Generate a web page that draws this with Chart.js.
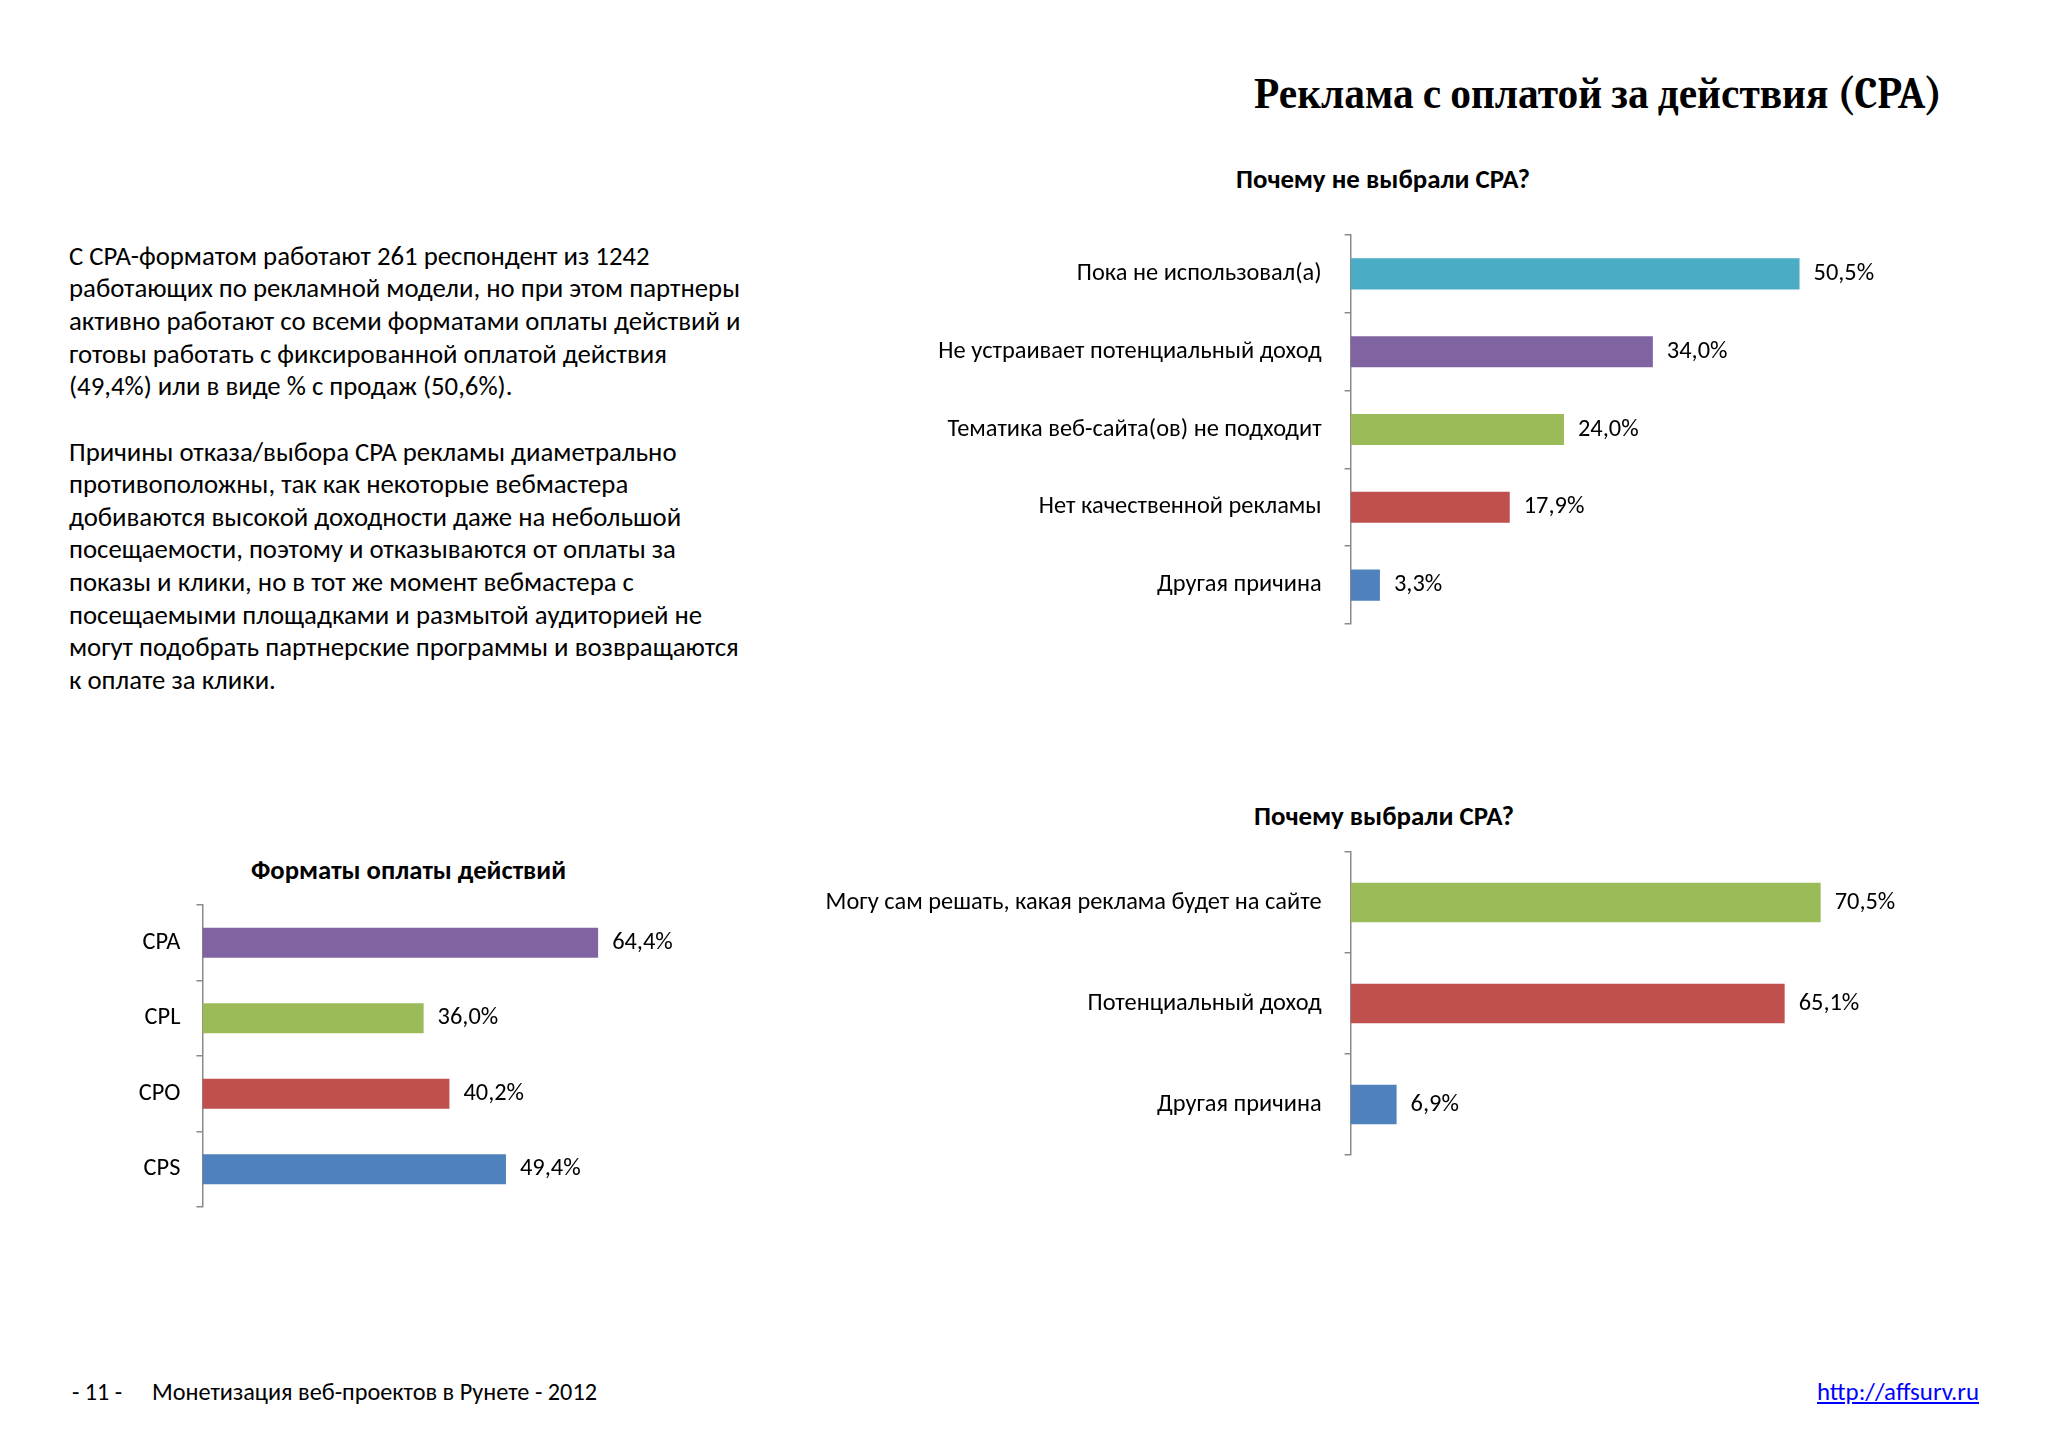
<!DOCTYPE html>
<html>
<head>
<meta charset="utf-8">
<script src="https://cdn.jsdelivr.net/npm/chart.js@4.4.1/dist/chart.umd.min.js"></script>
<style>
  body { margin: 0; background: #fff; }
  #page { position: relative; width: 2048px; height: 1448px; overflow: hidden; background: #fff; color: #000; font-family: Carlito, 'Open Sans', sans-serif; }
  .t { position: absolute; white-space: nowrap; left: 0; top: 0; }
  .box { position: absolute; }
  #body div { height: 32.65px; line-height: 32.65px; }
  #body span { white-space: nowrap; }
</style>
</head>
<body>
<div id="page">
  <div id="title" class="t" style="font-family:Caladea,'Liberation Serif',serif;font-weight:bold;font-size:44px;">Реклама с оплатой за действия (CPA)</div>

  <div id="body" class="t" style="font-size:26.7px;">
    <div><span>С CPA-форматом работают 261 респондент из 1242</span></div>
    <div><span id="longLine">работающих по рекламной модели, но при этом партнеры</span></div>
    <div><span>активно работают со всеми форматами оплаты действий и</span></div>
    <div><span>готовы работать с фиксированной оплатой действия</span></div>
    <div><span>(49,4%) или в виде % с продаж (50,6%).</span></div>
    <div></div>
    <div><span>Причины отказа/выбора CPA рекламы диаметрально</span></div>
    <div><span>противоположны, так как некоторые вебмастера</span></div>
    <div><span>добиваются высокой доходности даже на небольшой</span></div>
    <div><span>посещаемости, поэтому и отказываются от оплаты за</span></div>
    <div><span>показы и клики, но в тот же момент вебмастера с</span></div>
    <div><span>посещаемыми площадками и размытой аудиторией не</span></div>
    <div><span>могут подобрать партнерские программы и возвращаются</span></div>
    <div><span>к оплате за клики.</span></div>
  </div>

  <div id="t1" class="t" style="font-weight:bold;font-size:26px;">Почему не выбрали CPA?</div>
  <div id="t2" class="t" style="font-weight:bold;font-size:26px;">Почему выбрали CPA?</div>
  <div id="t3" class="t" style="font-weight:bold;font-size:26px;">Форматы оплаты действий</div>

  <div class="box" style="left:900px;top:231px;width:1064px;height:397px;"><canvas id="chartNot"></canvas></div>
  <div class="box" style="left:800px;top:847.5px;width:1164px;height:311px;"><canvas id="chartWhy"></canvas></div>
  <div class="box" style="left:100px;top:901px;width:674px;height:310px;"><canvas id="chartFormats"></canvas></div>

  <div id="f1" class="t" style="font-size:24px;">- 11 -</div>
  <div id="f2" class="t" style="font-size:24px;">Монетизация веб-проектов в Рунете - 2012</div>
  <div id="f3" class="t" style="font-size:24px;color:#0000ff;text-decoration:underline;">http://affsurv.ru</div>
</div>

<script>
// Почему не выбрали CPA?
const notLabels = ["Пока не использовал(а)", "Не устраивает потенциальный доход", "Тематика веб-сайта(ов) не подходит", "Нет качественной рекламы", "Другая причина"];
const notValues = [50.5, 34.0, 24.0, 17.9, 3.3];

// Почему выбрали CPA?
const whyLabels = ["Могу сам решать, какая реклама будет на сайте", "Потенциальный доход", "Другая причина"];
const whyValues = [70.5, 65.1, 6.9];

// Форматы оплаты действий
const formatLabels = ["CPA", "CPL", "CPO", "CPS"];
const formatValues = [64.4, 36.0, 40.2, 49.4];

// Office 2007 palette
const CYAN = "#4BACC6", PURPLE = "#8064A2", GREEN = "#9BBB59", RED = "#C0504D", BLUE = "#4F81BD";
const AXIS_COLOR = "#8a8a8a";
const FONT = "Carlito, 'Open Sans', sans-serif";

// font size that makes text fit a given width
function fitSize(text, family, width) {
    const ctx = document.createElement("canvas").getContext("2d");
    ctx.font = "100px " + family;
    return Math.round(100 * width / ctx.measureText(text).width * 10) / 10;
}

// Percent labels to the right of each bar
const valueLabels = {
    id: "valueLabels",
    afterDatasetsDraw(chart, args, opts) {
        const ctx = chart.ctx;
        const meta = chart.getDatasetMeta(0);
        ctx.save();
        ctx.font = opts.size + "px " + FONT;
        ctx.fillStyle = "#000";
        ctx.textBaseline = "middle";
        ctx.textAlign = "left";
        meta.data.forEach((bar, i) => {
            const v = chart.data.datasets[0].data[i];
            ctx.fillText(v.toFixed(1).replace(".", ",") + "%", bar.x + opts.offset, bar.y);
        });
        ctx.restore();
    }
};

function makeChart(id, labels, values, colors, cfg) {
    return new Chart(document.getElementById(id), {
        type: "bar",
        data: {
            labels: labels,
            datasets: [{
                data: values,
                backgroundColor: colors,
                borderWidth: 0,
                barPercentage: cfg.bar,
                categoryPercentage: 1
            }]
        },
        options: {
            indexAxis: "y",
            responsive: true,
            maintainAspectRatio: false,
            animation: false,
            layout: { padding: { top: 4, bottom: 4, left: 0, right: 80 } },
            plugins: {
                legend: { display: false },
                tooltip: { enabled: false },
                valueLabels: { size: cfg.font, offset: 14 }
            },
            scales: {
                x: { display: false, min: 0, max: cfg.max },
                y: {
                    afterFit: scale => {
                        scale.width = cfg.axisWidth;
                        scale.paddingTop = 0;
                        scale.paddingBottom = 0;
                    },
                    border: { display: true, color: AXIS_COLOR, width: 1.5 },
                    grid: { drawOnChartArea: false, drawTicks: true, tickLength: 6, color: AXIS_COLOR, lineWidth: 1.5, offset: true },
                    ticks: { color: "#000", padding: cfg.pad, font: { family: FONT, size: cfg.font } }
                }
            }
        },
        plugins: [valueLabels]
    });
}

const sizeTop = fitSize("Не устраивает потенциальный доход", FONT, 383);

makeChart("chartNot", notLabels, notValues, [CYAN, PURPLE, GREEN, RED, BLUE],
    { max: 60, axisWidth: 450.6, pad: 23, bar: 0.40, font: sizeTop });
makeChart("chartWhy", whyLabels, whyValues, [GREEN, RED, BLUE],
    { max: 80, axisWidth: 550.6, pad: 23, bar: 0.39, font: sizeTop });
makeChart("chartFormats", formatLabels, formatValues, [PURPLE, GREEN, RED, BLUE],
    { max: 80, axisWidth: 102.4, pad: 16, bar: 0.40, font: sizeTop });

// place html text: x is left / center / right edge, squeeze to width w
function placeText(id, x, yc, w, align) {
    const el = document.getElementById(id);
    const r = el.getBoundingClientRect();
    const s = w / r.width;
    el.style.transformOrigin = "left center";
    el.style.transform = "scaleX(" + s + ")";
    let left = x;
    if (align === "center") left = x - w / 2;
    if (align === "right") left = x - w;
    el.style.left = left + "px";
    el.style.top = (yc - r.height / 2) + "px";
}

placeText("title", 1942, 93, 688, "right");
placeText("t1", 1383, 179, 294, "center");
placeText("t2", 1384, 816, 260, "center");
placeText("t3", 408, 870, 315, "center");
placeText("f1", 72, 1391, 50, "left");
placeText("f2", 151.5, 1391, 445, "left");
placeText("f3", 1817, 1391, 162, "left");

// body paragraph: same squeeze for every line
const bodyEl = document.getElementById("body");
const bodyScale = 671 / document.getElementById("longLine").getBoundingClientRect().width;
bodyEl.style.left = "69px";
bodyEl.style.top = "239.7px";
bodyEl.style.transformOrigin = "left top";
bodyEl.style.transform = "scaleX(" + bodyScale + ")";
</script>
</body>
</html>
